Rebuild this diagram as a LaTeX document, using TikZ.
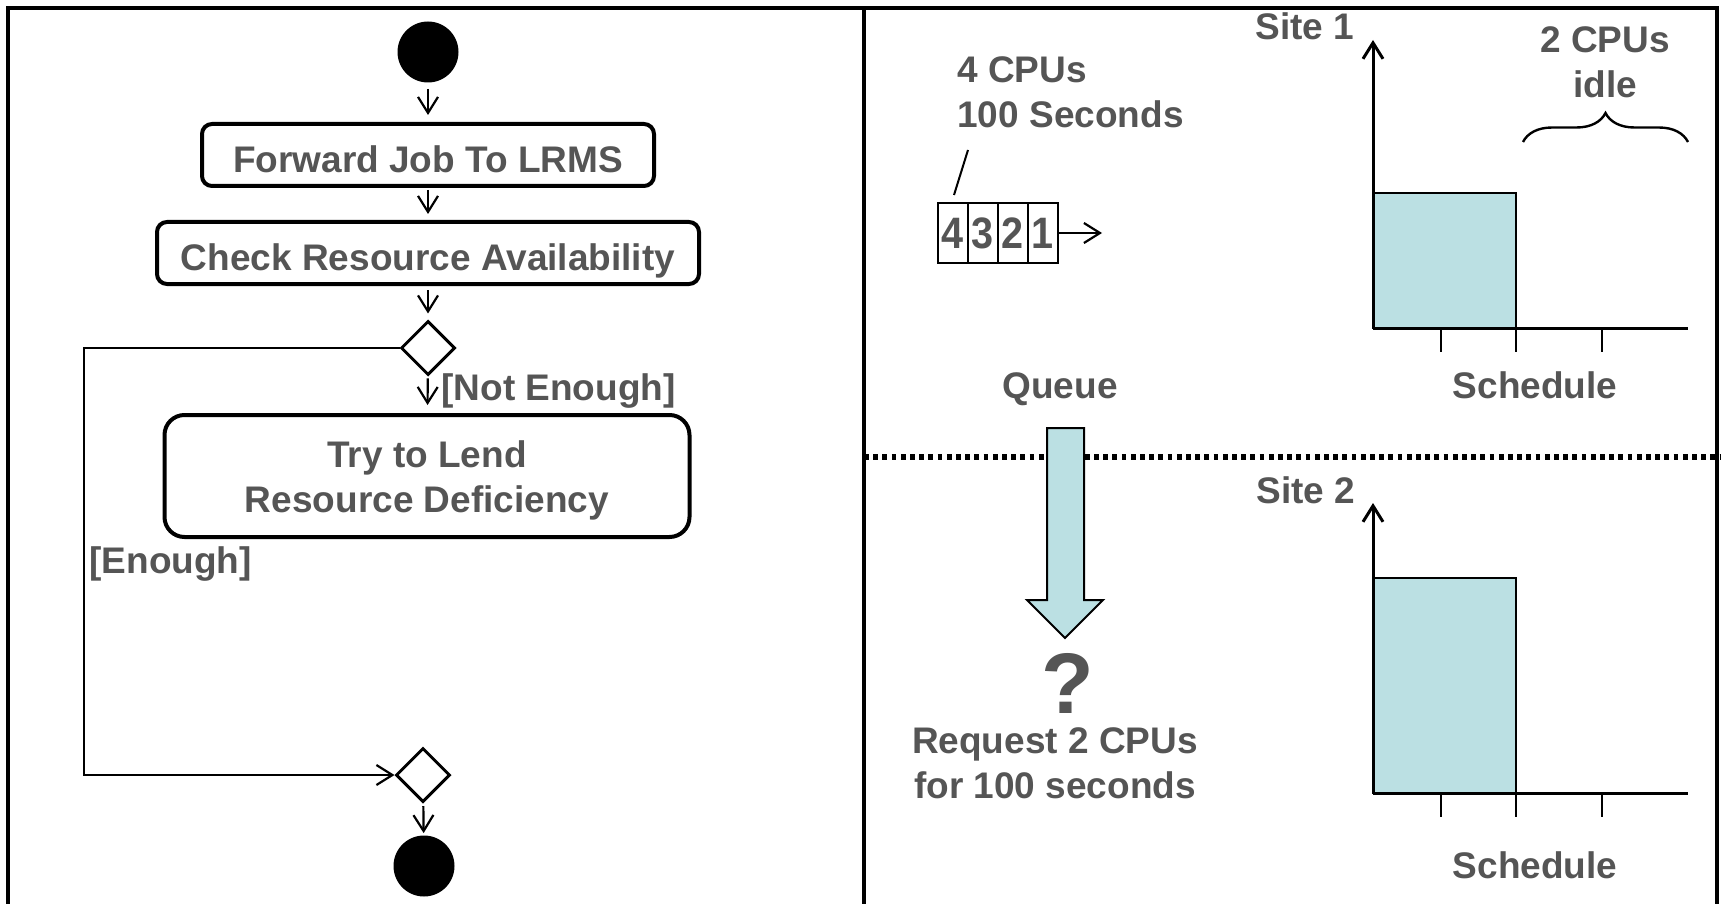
\documentclass[tikz,border=0pt]{standalone}
\usepackage{fontspec}
\setmainfont{Liberation Sans}
\usetikzlibrary{arrows.meta,shapes.geometric,decorations.pathreplacing}
\definecolor{txtgray}{RGB}{85,85,85}
\definecolor{jobblue}{RGB}{187,224,227}
\tikzset{
  lbl/.style={text=txtgray, font=\bfseries\fontsize{18.5}{22.5}\selectfont, inner sep=0pt},
  actbox/.style={draw, line width=2pt, rounded corners=5pt, lbl,
    text height=19.5pt, text depth=2pt},
  decision/.style={draw, diamond, line width=1.5pt, minimum width=27pt,
    minimum height=27pt, inner sep=0pt},
  endpoint/.style={circle, fill=black, minimum size=30.5pt, inner sep=0pt},
  flow/.style={line width=1.1pt, -{Straight Barb[length=8pt,width=10pt]}},
  axis/.style={line width=1.5pt, -{Straight Barb[length=8pt,width=10pt]}},
  qcell/.style={draw, line width=1pt, minimum width=15pt, minimum height=30pt,
    inner sep=0pt, text=txtgray, font=\bfseries\fontsize{22}{26}\selectfont},
  bar/.style={fill=jobblue, draw=black, line width=1pt},
  tick/.style={line width=1pt},
  frame/.style={line width=2pt}
}
\begin{document}
\begin{tikzpicture}[x=0.5pt, y=-0.5pt]
\useasboundingbox (0,0) rectangle (1721,904);
\fill[white] (0,0) rectangle (1721,904);

% outer frame and panel divider
\draw[frame] (8,904) -- (8,8) -- (1717,8) -- (1717,904);
\draw[frame] (864,8) -- (864,904);

% ---------- activity flow ----------
\node[endpoint] (start) at (428,52) {};
\node[actbox, minimum width=226pt, minimum height=31pt] (fwd) at (428,155) {Forward Job To LRMS};
\node[actbox, minimum width=271pt, minimum height=31pt] (chk) at (428,253) {Check Resource Availability};
\node[decision] (d1) at (428,348) {};
\node[draw, line width=2pt, rounded corners=10pt, lbl, align=center,
      text height=40pt, text depth=4pt,
      minimum width=262.5pt, minimum height=61pt] (lend) at (427,476)
      {Try to Lend\\Resource Deficiency};
\node[decision] (d2) at (423,775) {};
\node[endpoint] (stop) at (424,866) {};

\coordinate (loopTop) at (84,348);
\coordinate (loopBot) at (84,775);

\draw[flow, shorten <=3pt, shorten >=3.5pt] (start) -- (fwd);
\draw[flow, shorten <=1pt, shorten >=3pt] (fwd) -- (chk);
\draw[flow, shorten <=2pt, shorten >=3pt] (chk) -- (d1);
\draw[flow, shorten <=1pt, shorten >=4pt] (d1) -- (lend);
\draw[flow] (d1.west) -- (loopTop) -- (loopBot) -- (d2.west);
\draw[flow, shorten <=1.5pt, shorten >=1pt] (d2) -- (stop);

\node[lbl, anchor=base west] (notenough) at (441,400) {[Not Enough]};
\node[lbl, anchor=base west] (enough) at (89,573) {[Enough]};

% ---------- site 1 ----------
\node[lbl, anchor=base] (site1) at (1305,40) {Site 1};
\node[lbl, anchor=base, align=center] (idle) at (1605,98) {2 CPUs\\idle};
\node[lbl, anchor=base west, align=left] (jobsize) at (957,128) {4 CPUs\\100 Seconds};

\foreach \i/\x in {4/953,3/983,2/1013,1/1043}
  \node[qcell] (q\i) at (\x,233) {\scalebox{0.9}[1]{\i}};
\coordinate (qout) at (1102,233);
\draw[flow] (q1.east) -- (qout);
\coordinate (leadA) at (968,150);
\coordinate (leadB) at (954,195);
\draw[line width=1pt] (leadA) -- (leadB);

\node[lbl, anchor=base] (queue) at (1060,398) {Queue};
\node[lbl, anchor=base] (sched1) at (1535,398) {Schedule};

\draw[bar] (1373,193) rectangle (1516,328);
\draw[axis] (1373,328) -- (1373,40);
\draw[line width=1.5pt] (1373,328) -- (1688,328);
\foreach \x in {1441,1516,1602} \draw[tick] (\x,328) -- (\x,352);
\draw[line width=1.2pt, decorate, decoration={brace, amplitude=14.5pt}]
  (1523,142) -- (1688,142);

% ---------- separator between sites ----------
\draw[line width=2.8pt, dash pattern=on 2.4pt off 2.2pt] (864,457) -- (1721,457);

% request sent towards the second site
\draw[fill=jobblue, draw=black, line width=1pt]
  (1047,428) -- (1084,428) -- (1084,600) -- (1103,600) -- (1065,638)
  -- (1027,600) -- (1047,600) -- cycle;
\node[text=txtgray, font=\bfseries\fontsize{43}{50}\selectfont, inner sep=0pt,
      anchor=base] (qmark) at (1068,713) {?};
\node[lbl, anchor=base, align=center] (request) at (1055,798)
  {Request 2 CPUs\\for 100 seconds};

% ---------- site 2 ----------
\node[lbl, anchor=base] (site2) at (1306,503) {Site 2};
\draw[bar] (1373,578) rectangle (1516,793);
\draw[axis] (1373,793) -- (1373,503);
\draw[line width=1.5pt] (1373,793) -- (1688,793);
\foreach \x in {1441,1516,1602} \draw[tick] (\x,793) -- (\x,817);
\node[lbl, anchor=base] (sched2) at (1535,878) {Schedule};
\end{tikzpicture}
\end{document}
